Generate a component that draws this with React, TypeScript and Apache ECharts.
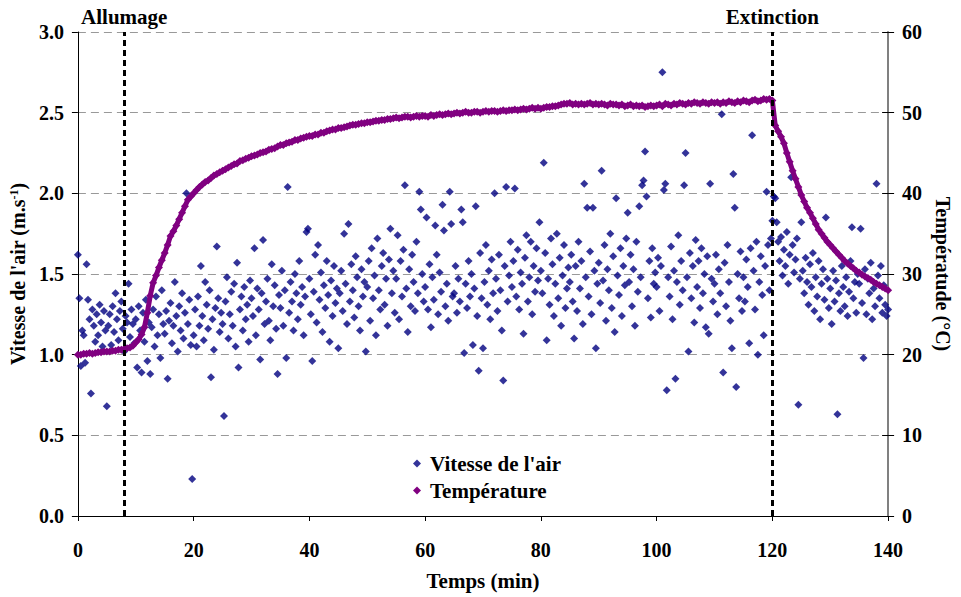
import React, { useEffect, useRef } from "react";
import * as echarts from "echarts";

// ---- Data ----
const AIR_STEP_MIN = 0.25; // minutes between air-speed samples
const airSpeed: number[] = [
  1.62, 1.35, 0.93, 1.15, 1.12, 0.95, 1.56, 1.34, 1.22, 0.76, 1.28, 1.18, 1.08, 1.25, 1.12, 1.31, 1.20, 1.05, 1.27, 1.15,
  0.68, 1.18, 1.25, 1.06, 1.30, 1.14, 1.38, 1.22, 1.09, 1.27, 1.33, 1.16, 1.02, 1.24, 1.20, 1.44, 1.11, 1.28, 1.19, 1.07,
  1.22, 0.92, 1.30, 1.15, 0.89, 1.26, 1.08, 1.34, 0.96, 1.20, 0.88, 1.17, 1.28, 1.05, 1.36, 1.12, 1.25, 0.98, 1.40, 1.19,
  1.13, 1.27, 0.85, 1.21, 1.32, 1.07, 1.18, 1.45, 1.24, 1.02, 1.30, 1.15, 1.38, 1.10, 1.26, 2.00, 1.19, 1.34, 1.06, 0.23,
  1.12, 1.28, 1.05, 1.36, 1.18, 1.55, 1.24, 1.09, 1.45, 1.31, 1.16, 1.40, 0.86, 1.22, 1.03, 1.29, 1.67, 1.35, 1.14, 1.26,
  1.19, 0.62, 1.33, 1.48, 1.10, 1.25, 1.39, 1.18, 1.44, 1.05, 1.57, 0.92, 1.28, 1.36, 1.15, 1.42, 1.22, 1.31, 1.08, 1.46,
  1.35, 1.24, 1.66, 1.12, 1.41, 1.28, 0.97, 1.38, 1.71, 1.19, 1.33, 1.47, 1.21, 1.09, 1.56, 1.30, 1.43, 1.16, 0.88, 1.37,
  1.29, 1.52, 1.18, 1.40, 0.98, 2.04, 1.26, 1.45, 1.33, 1.15, 1.50, 1.38, 1.22, 1.58, 1.31, 1.42, 1.12, 1.36, 1.76, 1.78,
  1.47, 1.25, 0.96, 1.39, 1.62, 1.20, 1.68, 1.34, 1.51, 1.14, 1.43, 1.29, 1.58, 1.37, 1.08, 1.46, 1.24, 1.55, 1.32, 1.41,
  1.04, 1.38, 1.52, 1.27, 1.75, 1.44, 1.19, 1.81, 1.33, 1.56, 1.40, 1.23, 1.61, 1.48, 1.30, 1.15, 1.53, 1.36, 1.45, 1.02,
  1.42, 1.58, 1.21, 1.66, 1.35, 1.49, 1.12, 1.72, 1.40, 1.28, 1.55, 1.63, 1.31, 1.47, 1.18, 1.59, 1.78, 1.38, 1.52, 1.26,
  1.47, 1.74, 1.22, 1.58, 1.36, 1.65, 2.05, 1.41, 1.14, 1.53, 1.30, 1.62, 1.45, 1.27, 1.70, 1.38, 2.01, 1.90, 1.50, 1.33,
  1.42, 1.85, 1.28, 1.56, 1.17, 1.48, 1.34, 1.80, 1.62, 1.25, 1.51, 1.39, 1.93, 1.77, 1.30, 1.44, 1.21, 2.01, 1.81, 1.36,
  1.38, 1.55, 1.26, 1.47, 1.33, 1.90, 1.82, 1.01, 1.44, 1.29, 1.58, 1.36, 1.50, 1.06, 1.41, 1.92, 1.24, 0.90, 1.63, 1.35,
  1.04, 1.45, 1.68, 1.31, 1.52, 1.22, 1.59, 1.38, 2.00, 1.47, 1.27, 1.62, 1.40, 1.15, 0.84, 1.55, 2.04, 1.33, 1.49, 1.70,
  1.42, 1.58, 2.03, 1.36, 1.65, 1.28, 1.51, 1.44, 1.13, 1.60, 1.74, 1.33, 1.48, 1.70, 1.25, 1.55, 1.39, 1.66, 1.46, 1.82,
  1.52, 1.38, 2.19, 1.63, 1.09, 1.47, 1.31, 1.72, 1.56, 1.24, 1.44, 1.75, 1.35, 1.60, 1.18, 1.49, 1.68, 1.29, 1.41, 1.54,
  1.45, 1.62, 1.33, 1.10, 1.55, 1.27, 1.70, 1.41, 1.58, 1.19, 2.06, 1.48, 1.91, 1.36, 1.64, 1.25, 1.91, 1.52, 1.04, 1.44,
  1.57, 1.32, 2.14, 1.46, 1.68, 1.21, 1.53, 1.40, 1.75, 1.29, 1.61, 1.14, 1.97, 1.49, 1.37, 1.66, 1.24, 1.55, 1.43, 1.72,
  1.88, 1.45, 1.62, 1.30, 1.53, 1.18, 1.70, 1.39, 1.92, 1.48, 2.05, 2.08, 2.26, 1.98, 1.35, 1.58, 1.23, 1.66, 1.44, 1.51,
  1.42, 1.60, 1.27, 1.55, 2.75, 2.02, 2.06, 0.78, 1.48, 1.36, 1.67, 1.22, 1.52, 0.85, 1.45, 1.74, 1.31, 1.58, 1.40, 2.05,
  2.25, 1.48, 1.02, 1.63, 1.35, 1.55, 1.20, 1.71, 1.42, 1.58, 1.29, 1.66, 1.38, 1.50, 1.17, 1.61, 1.13, 2.06, 1.47, 1.33,
  1.44, 1.62, 1.25, 1.53, 1.38, 2.49, 0.89, 1.57, 1.30, 1.68, 1.45, 1.21, 1.04, 2.12, 1.91, 0.80, 1.50, 1.35, 1.64, 1.27,
  1.48, 1.33, 1.59, 1.42, 1.07, 1.66, 2.36, 1.52, 1.28, 1.70, 1.00, 1.45, 1.61, 1.37, 1.12, 1.55, 2.01, 1.68, 1.40, 1.72,
  1.83, 1.98, 1.97, 1.82, 1.70, 1.58, 1.73, 1.49, 1.65, 1.55, 1.76, 1.44, 1.62, 2.10, 1.68, 1.51, 1.59, 1.72, 0.69, 1.47,
  1.82, 1.52, 1.38, 1.60, 1.45, 1.31, 1.56, 1.42, 1.63, 1.27, 1.48, 1.36, 1.58, 1.22, 1.44, 1.53, 1.34, 1.85, 1.47, 1.29,
  1.41, 1.19, 1.52, 1.33, 1.46, 0.63, 1.38, 1.27, 1.55, 1.42, 1.30, 1.48, 1.24, 1.39, 1.58, 1.79, 1.35, 1.45, 1.26, 1.50,
  1.44, 1.78, 1.32, 0.98, 1.53, 1.25, 1.47, 1.38, 1.57, 1.22, 1.41, 1.30, 2.06, 1.49, 1.35, 1.55, 1.26, 1.43, 1.31, 1.24,
  1.28,
];

const TEMP_STEP_MIN = 0.5; // minutes between temperature samples
const temperature: number[] = [
  20.0, 20.0, 20.1, 20.1, 20.2, 20.1, 20.2, 20.3, 20.3, 20.4, 20.4, 20.4, 20.5, 20.5, 20.6, 20.6, 20.7, 20.8, 20.9, 21.1,
  21.5, 21.9, 22.5, 23.4, 25.2, 27.3, 28.9, 29.8, 30.8, 31.7, 32.6, 33.6, 34.7, 35.3, 36.0, 36.8, 37.6, 38.4, 39.2, 39.6,
  40.0, 40.4, 40.8, 41.1, 41.4, 41.6, 41.9, 42.2, 42.4, 42.6, 42.8, 43.0, 43.2, 43.4, 43.6, 43.7, 44.0, 44.1, 44.3, 44.4,
  44.6, 44.7, 44.8, 45.0, 45.1, 45.2, 45.4, 45.5, 45.6, 45.8, 46.0, 46.0, 46.2, 46.3, 46.4, 46.6, 46.6, 46.8, 46.9, 47.0,
  47.1, 47.1, 47.3, 47.3, 47.5, 47.5, 47.7, 47.8, 47.9, 47.9, 48.1, 48.1, 48.2, 48.3, 48.4, 48.5, 48.5, 48.6, 48.7, 48.7,
  48.8, 48.8, 48.9, 49.0, 49.0, 49.1, 49.1, 49.2, 49.2, 49.3, 49.4, 49.3, 49.4, 49.5, 49.5, 49.4, 49.5, 49.6, 49.5, 49.6,
  49.6, 49.5, 49.7, 49.6, 49.7, 49.8, 49.7, 49.8, 49.9, 49.8, 49.9, 50.0, 49.9, 50.0, 50.1, 50.0, 50.0, 50.1, 50.1, 50.0,
  50.1, 50.2, 50.1, 50.2, 50.2, 50.1, 50.2, 50.3, 50.2, 50.3, 50.3, 50.4, 50.3, 50.4, 50.5, 50.4, 50.5, 50.6, 50.5, 50.6,
  50.5, 50.6, 50.7, 50.7, 50.8, 50.8, 50.9, 51.0, 51.1, 51.1, 51.2, 51.0, 51.1, 51.0, 51.1, 51.0, 51.1, 51.2, 51.0, 51.1,
  51.0, 51.1, 51.0, 50.9, 51.1, 51.0, 51.0, 50.9, 51.0, 50.8, 50.9, 51.0, 50.8, 50.9, 50.8, 50.9, 50.7, 50.8, 50.9, 50.8,
  50.9, 51.0, 50.8, 51.1, 51.0, 50.9, 51.1, 51.0, 51.2, 51.1, 51.0, 51.2, 51.1, 51.3, 51.2, 51.1, 51.3, 51.2, 51.1, 51.3,
  51.2, 51.3, 51.1, 51.3, 51.2, 51.4, 51.3, 51.2, 51.4, 51.3, 51.5, 51.4, 51.3, 51.5, 51.6, 51.4, 51.5, 51.7, 51.6, 51.7,
  51.5, 48.4, 47.7, 47.0, 46.2, 45.0, 43.9, 42.8, 41.8, 40.8, 39.8, 39.0, 38.2, 37.6, 36.9, 36.2, 35.5, 35.0, 34.5, 34.0,
  33.6, 33.2, 32.8, 32.4, 32.0, 31.6, 31.3, 31.0, 30.7, 30.4, 30.2, 29.9, 29.7, 29.5, 29.3, 29.0, 28.8, 28.6, 28.4, 28.2,
  28.0,
];

const IGNITION_MIN = 8;
const EXTINCTION_MIN = 120;
const EVENT_LABELS = ["Allumage", "Extinction"];
const SERIES_NAMES = ["Vitesse de l'air", "Température"];
const X_TICKS = { min: 0, max: 140, interval: 20 };
const Y_LEFT_TICKS = { min: 0, max: 3, interval: 0.5 };
const Y_RIGHT_TICKS = { min: 0, max: 60, interval: 10 };

const FONT = "'Liberation Serif', 'Times New Roman', serif";
const NAVY = "#000080";
const PURPLE = "#800080";

export default function App() {
  const ref = useRef<HTMLDivElement>(null);

  useEffect(() => {
    if (!ref.current) return;
    const chart = echarts.init(ref.current, undefined, { renderer: "svg" });

    const airData = airSpeed.map((v, i) => [i * AIR_STEP_MIN, v]);
    const tempData = temperature.map((v, i) => [i * TEMP_STEP_MIN, v]);

    const textBase = { fontFamily: FONT, fontWeight: "bold" as const, color: "#000" };

    chart.setOption({
      animation: false,
      backgroundColor: "#fff",
      grid: { left: 77, right: 65, top: 32, bottom: 81 },
      legend: {
        orient: "vertical",
        left: 408,
        top: 448,
        itemWidth: 8,
        itemHeight: 8,
        itemGap: 6,
        data: [
          { name: SERIES_NAMES[0], icon: "diamond" },
          { name: SERIES_NAMES[1], icon: "diamond" },
        ],
        textStyle: { ...textBase, fontSize: 21, padding: [0, 0, 0, 4] },
      },
      xAxis: {
        type: "value",
        ...X_TICKS,
        name: "Temps (min)",
        nameLocation: "middle",
        nameGap: 54,
        nameTextStyle: { ...textBase, fontSize: 21 },
        axisLine: { show: true, onZero: false, lineStyle: { color: "#000", width: 1 } },
        axisTick: { show: true, length: 5, lineStyle: { color: "#000" } },
        axisLabel: { ...textBase, fontSize: 20, margin: 24 },
        splitLine: { show: false },
      },
      yAxis: [
        {
          type: "value",
          ...Y_LEFT_TICKS,
          position: "left",
          name: "Vitesse de l'air (m.s{sup|-1})",
          nameLocation: "middle",
          nameGap: 42,
          nameTextStyle: {
            ...textBase,
            fontSize: 20,
            rich: {
              sup: { ...textBase, fontSize: 12, verticalAlign: "top" },
            },
          },
          axisLine: { show: true, lineStyle: { color: "#000", width: 1 } },
          axisTick: { show: true, length: 6, lineStyle: { color: "#000" } },
          axisLabel: { ...textBase, fontSize: 20, margin: 14, formatter: (v: number) => v.toFixed(1) },
          splitLine: { show: true, lineStyle: { type: [8, 5], color: "#999", width: 1 } },
        },
        {
          type: "value",
          ...Y_RIGHT_TICKS,
          position: "right",
          name: "Températude (°C)",
          nameLocation: "middle",
          nameRotate: -90,
          nameGap: 41,
          nameTextStyle: { ...textBase, fontSize: 20 },
          axisLine: { show: true, lineStyle: { color: "#808080", width: 2 } },
          axisTick: { show: true, length: 6, lineStyle: { color: "#000" } },
          axisLabel: { ...textBase, fontSize: 20, margin: 14 },
          splitLine: { show: false },
        },
        {
          // inner half of the right-axis cross ticks
          type: "value",
          ...Y_RIGHT_TICKS,
          position: "right",
          axisLine: { show: false },
          axisTick: { show: true, inside: true, length: 6, lineStyle: { color: "#000" } },
          axisLabel: { show: false },
          splitLine: { show: false },
        },
      ],
      series: [
        {
          name: SERIES_NAMES[0],
          type: "scatter",
          yAxisIndex: 0,
          symbol: "diamond",
          symbolSize: 8,
          itemStyle: { color: NAVY },
          data: airData,
          markLine: {
            silent: true,
            symbol: ["none", "none"],
            lineStyle: { type: [6, 4], color: "#000", width: 3 },
            label: { show: true, position: "end", distance: 5, ...textBase, fontSize: 21 },
            data: [
              { xAxis: IGNITION_MIN, label: { formatter: EVENT_LABELS[0] } },
              { xAxis: EXTINCTION_MIN, label: { formatter: EVENT_LABELS[1] } },
            ],
          },
        },
        {
          name: SERIES_NAMES[1],
          type: "line",
          yAxisIndex: 1,
          symbol: "diamond",
          symbolSize: 8,
          showSymbol: true,
          lineStyle: { color: PURPLE, width: 5 },
          itemStyle: { color: PURPLE },
          data: tempData,
        },
      ],
    });

    return () => chart.dispose();
  }, []);

  return (
    <div
      ref={ref}
      style={{ position: "fixed", left: 0, top: 0, width: 961, height: 597, background: "#fff" }}
    />
  );
}
